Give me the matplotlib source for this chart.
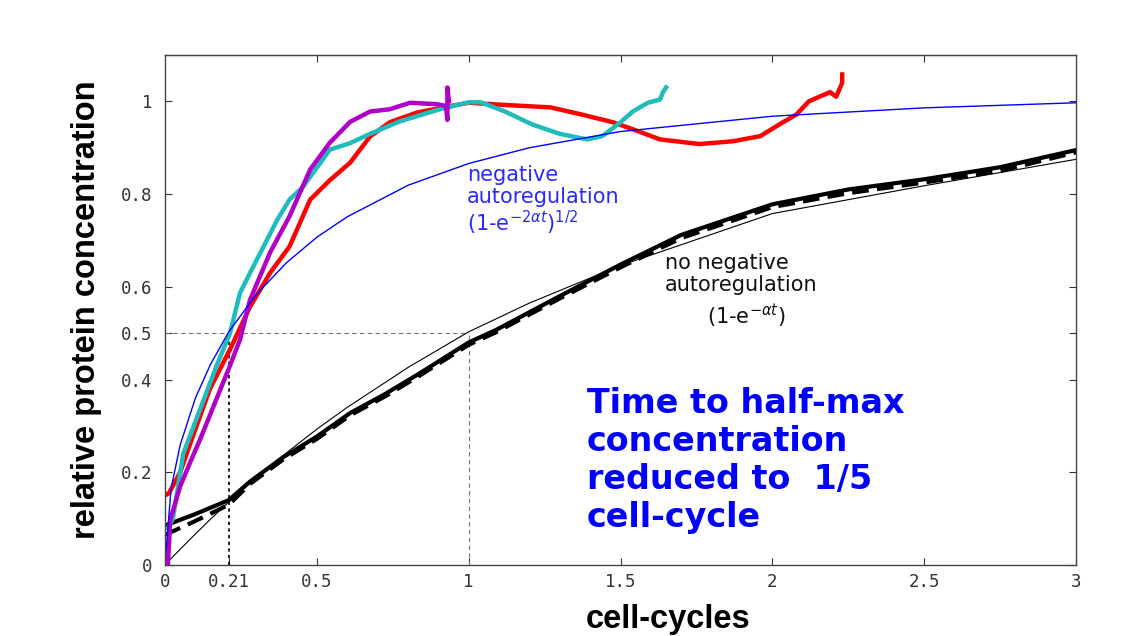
import matplotlib.pyplot as plt

# ---------------------------------------------------------------
# Theory curves (thin lines)
# ---------------------------------------------------------------
t_theory = [0, 0.02, 0.05, 0.1, 0.15, 0.21, 0.3, 0.4, 0.5, 0.6, 0.8,
            1.0, 1.2, 1.5, 2.0, 2.5, 3.0]
neg_auto = [0, 0.165, 0.259, 0.360, 0.433, 0.503, 0.583, 0.652, 0.707,
            0.751, 0.819, 0.866, 0.900, 0.935, 0.968, 0.986, 0.997]
no_auto = [0, 0.014, 0.034, 0.067, 0.099, 0.136, 0.188, 0.242, 0.293,
           0.340, 0.426, 0.503, 0.565, 0.646, 0.758, 0.818, 0.875]

# ---------------------------------------------------------------
# Measured curves without autoregulation (thick black)
# ---------------------------------------------------------------
t_black = [0, 0.1, 0.21, 0.28, 0.39, 0.5, 0.61, 0.72, 0.83, 1.0, 1.09,
           1.3, 1.5, 1.7, 2.0, 2.25, 2.5, 2.75, 3.0]
black_solid = [0.085, 0.11, 0.14, 0.18, 0.233, 0.277, 0.328, 0.367, 0.41,
               0.48, 0.507, 0.58, 0.648, 0.712, 0.778, 0.81, 0.832, 0.858, 0.895]
black_dash = [0.065, 0.095, 0.13, 0.175, 0.228, 0.272, 0.323, 0.362, 0.405,
              0.475, 0.502, 0.575, 0.642, 0.705, 0.772, 0.802, 0.825, 0.85, 0.89]

# ---------------------------------------------------------------
# Measured curves with negative autoregulation
# ---------------------------------------------------------------
t_red = [0, 0.013, 0.05, 0.082, 0.148, 0.214, 0.28, 0.346, 0.41, 0.478,
         0.543, 0.61, 0.675, 0.74, 0.83, 0.94, 1.0, 1.10, 1.27, 1.37,
         1.475, 1.54, 1.63, 1.76, 1.87, 1.96, 2.035, 2.08, 2.12, 2.19,
         2.21, 2.23, 2.23]
red = [0.15, 0.155, 0.2, 0.26, 0.38, 0.465, 0.557, 0.63, 0.687, 0.788,
       0.83, 0.868, 0.924, 0.955, 0.976, 0.99, 0.997, 0.993, 0.987, 0.972,
       0.955, 0.94, 0.918, 0.908, 0.914, 0.925, 0.955, 0.972, 1.0, 1.02,
       1.01, 1.04, 1.058]

t_cyan = [0.01, 0.026, 0.06, 0.115, 0.17, 0.214, 0.247, 0.28, 0.37, 0.41,
          0.455, 0.543, 0.61, 0.675, 0.774, 0.905, 1.0, 1.04, 1.12, 1.21,
          1.30, 1.39, 1.44, 1.50, 1.54, 1.59, 1.63, 1.64, 1.65]
cyan = [0.08, 0.10, 0.24, 0.335, 0.43, 0.50, 0.587, 0.63, 0.745, 0.788,
        0.816, 0.896, 0.91, 0.93, 0.957, 0.983, 0.998, 0.998, 0.978, 0.95,
        0.93, 0.918, 0.925, 0.955, 0.978, 0.997, 1.004, 1.02, 1.03]

t_mag = [0.01, 0.017, 0.05, 0.082, 0.115, 0.214, 0.247, 0.28, 0.346, 0.41,
         0.478, 0.543, 0.61, 0.675, 0.74, 0.807, 0.895, 0.925, 0.93, 0.93,
         0.935]
magenta = [0.005, 0.097, 0.17, 0.22, 0.27, 0.43, 0.486, 0.572, 0.674, 0.752,
           0.853, 0.911, 0.956, 0.978, 0.983, 0.997, 0.994, 0.99, 0.96, 1.03,
           1.0]

x_ticks = [0, 0.21, 0.5, 1, 1.5, 2, 2.5, 3]
x_tick_labels = ["0", "0.21", "0.5", "1", "1.5", "2", "2.5", "3"]
top_ticks = [0.5, 1, 1.5, 2, 2.5]
y_ticks = [0, 0.2, 0.4, 0.5, 0.6, 0.8, 1]
y_tick_labels = ["0", "0.2", "0.4", "0.5", "0.6", "0.8", "1"]

t_half_neg = 0.21
t_half_none = 1.0
half_level = 0.5

sans = ["DejaVu Sans"]
bold_sans = ["Liberation Sans", "DejaVu Sans"]

# ---------------------------------------------------------------
# Plot
# ---------------------------------------------------------------
fig = plt.figure(figsize=(11.24, 6.36), dpi=100)
ax = fig.add_axes([0.1468, 0.1116, 0.8105, 0.8019])

# half-max guides
ax.plot([0, t_half_none], [half_level, half_level], color="#777777",
        linestyle=(0, (4, 3)), linewidth=0.8)
ax.plot([t_half_none, t_half_none], [0, half_level], color="#777777",
        linestyle=(0, (4, 3)), linewidth=0.8)
ax.plot([t_half_neg, t_half_neg], [0, half_level], color="black",
        linestyle=(0, (2, 2)), linewidth=1.2)

ax.plot(t_black, black_dash, color="black", linewidth=3.0,
        linestyle=(0, (4, 2)))
ax.plot(t_black, black_solid, color="black", linewidth=3.0)
ax.plot(t_theory, no_auto, color="black", linewidth=0.8)

ax.plot(t_red, red, color="#ff0000", linewidth=3.2)
ax.plot(t_cyan, cyan, color="#1ebcbc", linewidth=3.2)
ax.plot(t_mag, magenta, color="#b000c8", linewidth=3.2)
ax.plot(t_theory, neg_auto, color="#0000ff", linewidth=1.0)

ax.set_xlim(0, 3)
ax.set_ylim(0, 1.1)
ax.set_xticks(x_ticks)
ax.set_xticklabels(x_tick_labels)
ax.set_yticks(y_ticks)
ax.set_yticklabels(y_tick_labels)
ax.tick_params(direction="in", top=False, right=True, length=5,
               labelsize=12.5, labelcolor="#333333", color="#333333")
ax.tick_params(axis="y", pad=9)
ax.tick_params(axis="x", pad=6)
for lbl in ax.get_xticklabels() + ax.get_yticklabels():
    lbl.set_family(["DejaVu Sans Mono"])

# top ticks only at the round values
top = ax.secondary_xaxis("top")
top.set_xticks(top_ticks)
top.set_xticklabels([])
top.tick_params(direction="in", length=5, color="#333333")
top.spines["top"].set_color("#444444")

for s in ax.spines.values():
    s.set_color("#444444")
    s.set_linewidth(1.0)

ax.set_xlabel("cell-cycles", fontsize=23.5, fontweight="bold", family=bold_sans)
ax.xaxis.set_label_coords(0.552, -0.077)
ax.set_ylabel("relative protein concentration", fontsize=23.5,
              fontweight="bold",
              family=["Liberation Sans Narrow", "Liberation Sans", "DejaVu Sans"],
              labelpad=14)

ax.text(0.995, 0.862,
        "negative\nautoregulation\n(1-e$^{-2\\alpha t}$)$^{1/2}$",
        color="#2a2aff", fontsize=15, family=sans,
        va="top", ha="left", linespacing=1.08)
ax.text(1.645, 0.672, "no negative\nautoregulation",
        color="#111111", fontsize=15, family=sans,
        va="top", ha="left", linespacing=1.08)
ax.text(1.913, 0.538, "(1-e$^{-\\alpha t}$)",
        color="#111111", fontsize=15, family=sans,
        va="center", ha="center")

ax.text(1.39, 0.385, "Time to half-max\nconcentration\nreduced to  1/5\ncell-cycle",
        color="#0000ff", fontsize=24, fontweight="bold",
        family=["DejaVu Sans"],
        va="top", ha="left", linespacing=1.2)

fig.savefig("out.png", dpi=100)
